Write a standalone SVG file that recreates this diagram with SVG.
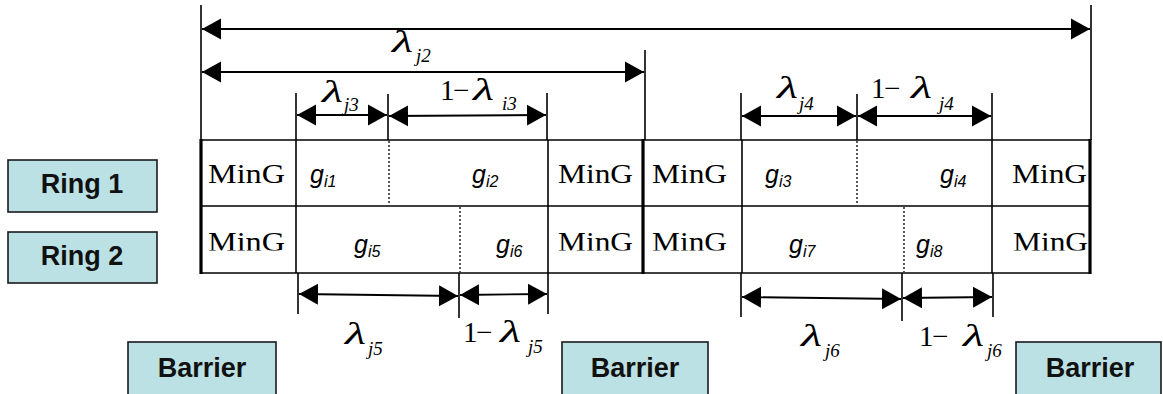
<svg xmlns="http://www.w3.org/2000/svg" width="1163" height="394" viewBox="0 0 1163 394">
<style>
.box{fill:#bce1e4;stroke:#1a1a1a;stroke-width:1.6}
.lbl{font-family:"Liberation Sans",Arial,sans-serif;font-weight:bold;font-size:27px;fill:#111;text-anchor:middle}
.ln{stroke:#000;stroke-width:1.6;fill:none}
.thick{stroke:#000;stroke-width:3.2;fill:none}
.dot{stroke:#000;stroke-width:1.3;stroke-dasharray:2,2;fill:none}
.arr{stroke:#000;stroke-width:1.8;fill:none;marker-start:url(#ah);marker-end:url(#ah)}
.ming{font-family:"Liberation Serif","Times New Roman",serif;font-size:27px;fill:#000}
.g{font-family:"Liberation Sans",Arial,sans-serif;font-style:italic;font-size:25px;fill:#000}
.gs{font-family:"Liberation Sans",Arial,sans-serif;font-style:italic;font-size:16px;fill:#000}
.lam{font-family:"Liberation Serif","Times New Roman",serif;font-style:italic;font-size:32px;fill:#000}
.one{font-family:"Liberation Serif","Times New Roman",serif;font-size:29px;fill:#000}
.sub{font-family:"Liberation Serif","Times New Roman",serif;font-style:italic;font-size:19px;fill:#000}
</style>
<defs>
<marker id="ah" markerUnits="userSpaceOnUse" markerWidth="20" markerHeight="22" refX="19" refY="10.5" orient="auto-start-reverse" viewBox="0 0 20 21">
<path d="M0,0 L19,10.5 L0,21 z" fill="#000"/>
</marker>
<clipPath id="row2"><rect x="0" y="207" width="1163" height="43.5"/></clipPath>
</defs>

<g id="ring1"><rect class="box" x="8" y="160" width="149" height="52"/><text class="lbl" x="82" y="193">Ring 1</text></g>
<g id="ring2"><rect class="box" x="8" y="232" width="149" height="51"/><text class="lbl" x="82" y="265">Ring 2</text></g>
<g id="barrier1"><rect class="box" x="128" y="342" width="148" height="56"/><text class="lbl" x="202" y="377">Barrier</text></g>
<g id="barrier2"><rect class="box" x="562" y="342" width="146" height="56"/><text class="lbl" x="635" y="377">Barrier</text></g>
<g id="barrier3"><rect class="box" x="1016" y="342" width="145" height="56"/><text class="lbl" x="1090" y="377">Barrier</text></g>

<g id="table">
<line class="ln" x1="201" y1="140" x2="1090" y2="140"/>
<line class="ln" x1="201" y1="206" x2="1090" y2="206"/>
<line class="ln" x1="201" y1="273" x2="1090" y2="273"/>
<line class="thick" x1="201" y1="139" x2="201" y2="274"/>
<line class="thick" x1="643" y1="139" x2="643" y2="274"/>
<line class="thick" x1="1090" y1="139" x2="1090" y2="274"/>
<line class="ln" x1="296" y1="140" x2="296" y2="273"/>
<line class="ln" x1="548" y1="140" x2="548" y2="273"/>
<line class="ln" x1="742" y1="140" x2="742" y2="273"/>
<line class="ln" x1="992" y1="140" x2="992" y2="273"/>
<line class="dot" x1="389" y1="141" x2="389" y2="205"/>
<line class="dot" x1="857" y1="141" x2="857" y2="205"/>
<line class="dot" x1="460" y1="207" x2="460" y2="272"/>
<line class="dot" x1="904" y1="207" x2="904" y2="272"/>
</g>

<g id="cells">
<text class="ming" x="208" y="183" textLength="77" lengthAdjust="spacingAndGlyphs">MinG</text>
<text class="ming" x="558" y="183" textLength="75" lengthAdjust="spacingAndGlyphs">MinG</text>
<text class="ming" x="652" y="183" textLength="75" lengthAdjust="spacingAndGlyphs">MinG</text>
<text class="ming" x="1012" y="183" textLength="75" lengthAdjust="spacingAndGlyphs">MinG</text>
<g clip-path="url(#row2)">
<text class="ming" x="208" y="251" textLength="77" lengthAdjust="spacingAndGlyphs">MinG</text>
<text class="ming" x="558" y="251" textLength="75" lengthAdjust="spacingAndGlyphs">MinG</text>
<text class="ming" x="652" y="251" textLength="75" lengthAdjust="spacingAndGlyphs">MinG</text>
<text class="ming" x="1013" y="251" textLength="75" lengthAdjust="spacingAndGlyphs">MinG</text>
</g>
<text class="g" x="310" y="183">g<tspan class="gs" dy="4">i1</tspan></text>
<text class="g" x="472" y="183">g<tspan class="gs" dy="4">i2</tspan></text>
<text class="g" x="765" y="183">g<tspan class="gs" dy="4">i3</tspan></text>
<text class="g" x="940" y="183">g<tspan class="gs" dy="4">i4</tspan></text>
<text class="g" x="354" y="253">g<tspan class="gs" dy="4">i5</tspan></text>
<text class="g" x="496" y="253">g<tspan class="gs" dy="4">i6</tspan></text>
<text class="g" x="789" y="253">g<tspan class="gs" dy="4">i7</tspan></text>
<text class="g" x="916" y="253">g<tspan class="gs" dy="4">i8</tspan></text>
</g>

<g id="connectors">
<line class="ln" x1="201" y1="5" x2="201" y2="140"/>
<line class="ln" x1="1091" y1="5" x2="1091" y2="140"/>
<line class="ln" x1="645" y1="50" x2="645" y2="140"/>
<line class="ln" x1="296" y1="93" x2="296" y2="140"/>
<line class="ln" x1="388" y1="94" x2="388" y2="140"/>
<line class="ln" x1="547" y1="93" x2="547" y2="140"/>
<line class="ln" x1="741" y1="93" x2="741" y2="140"/>
<line class="ln" x1="857" y1="94" x2="857" y2="140"/>
<line class="ln" x1="992" y1="93" x2="992" y2="140"/>
<line class="ln" x1="298" y1="273" x2="298" y2="314"/>
<line class="ln" x1="459" y1="273" x2="459" y2="318"/>
<line class="ln" x1="548" y1="273" x2="548" y2="314"/>
<line class="ln" x1="741" y1="273" x2="741" y2="317"/>
<line class="ln" x1="902" y1="273" x2="902" y2="321"/>
<line class="ln" x1="993" y1="273" x2="993" y2="317"/>

<line class="arr" x1="202" y1="29" x2="1090" y2="29"/>
<line class="arr" x1="202" y1="72" x2="644" y2="72"/>
<line class="arr" x1="297" y1="115" x2="387" y2="115"/>
<line class="arr" x1="389" y1="116" x2="546" y2="115"/>
<line class="arr" x1="742" y1="116" x2="856" y2="116"/>
<line class="arr" x1="858" y1="116" x2="991" y2="116"/>
<line class="arr" x1="299" y1="294" x2="458" y2="296"/>
<line class="arr" x1="460" y1="295" x2="547" y2="294"/>
<line class="arr" x1="742" y1="297" x2="901" y2="299"/>
<line class="arr" x1="903" y1="298" x2="992" y2="297"/>
</g>

<g id="labels">
<text class="lam" x="392" y="52" textLength="21" lengthAdjust="spacingAndGlyphs">λ</text><text class="sub" x="416" y="62">j2</text>
<text class="lam" x="322" y="102" textLength="21" lengthAdjust="spacingAndGlyphs">λ</text><text class="sub" x="344" y="111">j3</text>
<text class="one" x="440" y="100">1</text><text class="one" x="453" y="100">−</text><text class="lam" x="473" y="100" textLength="21" lengthAdjust="spacingAndGlyphs">λ</text><text class="sub" x="502" y="110">i3</text>
<text class="lam" x="777" y="98" textLength="21" lengthAdjust="spacingAndGlyphs">λ</text><text class="sub" x="799" y="110">j4</text>
<text class="one" x="871" y="98">1</text><text class="one" x="884" y="98">−</text><text class="lam" x="911" y="98" textLength="21" lengthAdjust="spacingAndGlyphs">λ</text><text class="sub" x="939" y="110">j4</text>
<text class="lam" x="345" y="344" textLength="21" lengthAdjust="spacingAndGlyphs">λ</text><text class="sub" x="368" y="355">j5</text>
<text class="one" x="463" y="342">1</text><text class="one" x="476" y="342">−</text><text class="lam" x="500" y="342" textLength="21" lengthAdjust="spacingAndGlyphs">λ</text><text class="sub" x="528" y="353">j5</text>
<text class="lam" x="801" y="346" textLength="21" lengthAdjust="spacingAndGlyphs">λ</text><text class="sub" x="825" y="357">j6</text>
<text class="one" x="919" y="346">1</text><text class="one" x="932" y="346">−</text><text class="lam" x="963" y="346" textLength="21" lengthAdjust="spacingAndGlyphs">λ</text><text class="sub" x="987" y="357">j6</text>
</g>
</svg>
